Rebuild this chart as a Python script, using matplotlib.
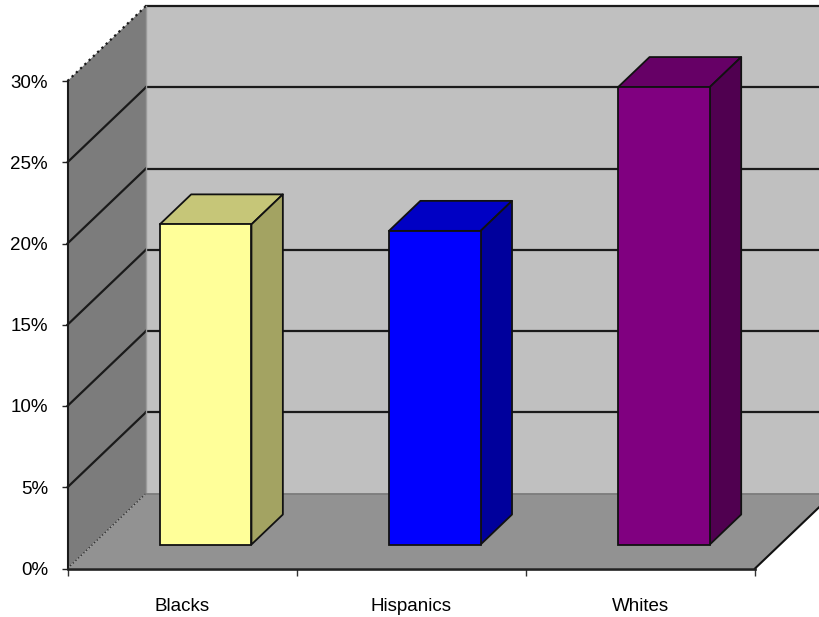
import matplotlib
matplotlib.use('Agg')
import matplotlib.pyplot as plt
from matplotlib.patches import Polygon

plt.rcParams['font.family'] = ['Liberation Sans', 'DejaVu Sans']

categories = ['Blacks', 'Hispanics', 'Whites']
values = [19.7, 19.3, 28.15]
front_colors = ['#ffff99', '#0000ff', '#800080']
top_colors = ['#c6c678', '#0000c4', '#660066']
side_colors = ['#a3a362', '#00009c', '#500050']
yticks = [0, 5, 10, 15, 20, 25, 30]

# depth of the box in data units (one category = 1 in x, one percent = 1 in y)
dx = 78.5 / 229.2
dy = 75.0 / 16.25
bar_width = 0.4
bar_depth = 0.4
bar_gap = 0.3

W, H = 820, 617
fig = plt.figure(figsize=(W / 100, H / 100), dpi=100)
ax = fig.add_axes([67.5 / W, (H - 568.5) / H, 687.5 / W, 487.5 / H])
ax.set_xlim(0, 3)
ax.set_ylim(0, 30)


def poly(pts, color, z, ec='none', lw=0):
    ax.add_patch(Polygon(pts, closed=True, fc=color, ec=ec, lw=lw, zorder=z,
                         clip_on=False, joinstyle='round'))


def line(xs, ys, z=3, color='#1a1a1a', lw=1.6, ls='-'):
    ax.plot(xs, ys, color=color, lw=lw, ls=ls, zorder=z, clip_on=False)


top = yticks[-1]
far = 3 + dx + 1

# walls and floor
poly([(dx, dy), (far, dy), (far, top + dy), (dx, top + dy)], '#c0c0c0', 1)
poly([(0, 0), (dx, dy), (dx, top + dy), (0, top)], '#7c7c7c', 1)
poly([(0, 0), (3, 0), (3 + dx, dy), (dx, dy)], '#929292', 1)

# gridlines on both walls
for v in yticks[1:]:
    line([0, dx], [v, v + dy], ls=(':' if v == top else '-'))
    line([dx, far], [v + dy, v + dy])
line([0, dx], [0, dy], color='#333333', lw=1, ls=':')
line([dx, dx], [dy, top + dy], color='#9a9a9a', lw=1)
line([dx, far], [dy, dy], color='#7a7a7a', lw=1.2)
line([3, 3 + dx], [0, dy], color='#111111', lw=1.5)

# bars
for i, name in enumerate(categories):
    x0 = i + (1 - bar_width) / 2 + bar_gap * dx
    x1 = x0 + bar_width
    y0 = 0.32 * dy
    y1 = y0 + values[i]
    ox = bar_depth * dx
    oy = bar_depth * dy
    ax.bar(x0, values[i], width=bar_width, bottom=y0, align='edge',
           color=front_colors[i], ec='#111111', lw=1.3, zorder=6, clip_on=False)
    poly([(x0, y1), (x1, y1), (x1 + ox, y1 + oy), (x0 + ox, y1 + oy)],
         top_colors[i], 5, ec='#111111', lw=1.3)
    poly([(x1, y0), (x1 + ox, y0 + oy), (x1 + ox, y1 + oy), (x1, y1)],
         side_colors[i], 5, ec='#111111', lw=1.3)

# axes
for s in ['top', 'right']:
    ax.spines[s].set_visible(False)
ax.spines['left'].set_linewidth(1.5)
ax.spines['left'].set_color('#1a1a1a')
ax.spines['bottom'].set_linewidth(1.9)
ax.spines['bottom'].set_color('#222222')
for s in ax.spines.values():
    s.set_zorder(7)
ax.patch.set_visible(False)

ax.set_yticks(yticks)
ax.set_yticklabels(['%d%%' % v for v in yticks], fontsize=13.5)
ax.tick_params(axis='y', length=4, width=1, pad=10, color='#222222')
ax.set_xticks(range(0, 4))
ax.set_xticklabels([])
ax.tick_params(axis='x', which='major', length=5, width=1, color='#333333')
ax.set_xticks([0.5, 1.5, 2.5], minor=True)
ax.set_xticklabels(categories, minor=True, fontsize=13.5)
ax.tick_params(axis='x', which='minor', length=0, pad=21)

fig.savefig('out.png', dpi=100)
